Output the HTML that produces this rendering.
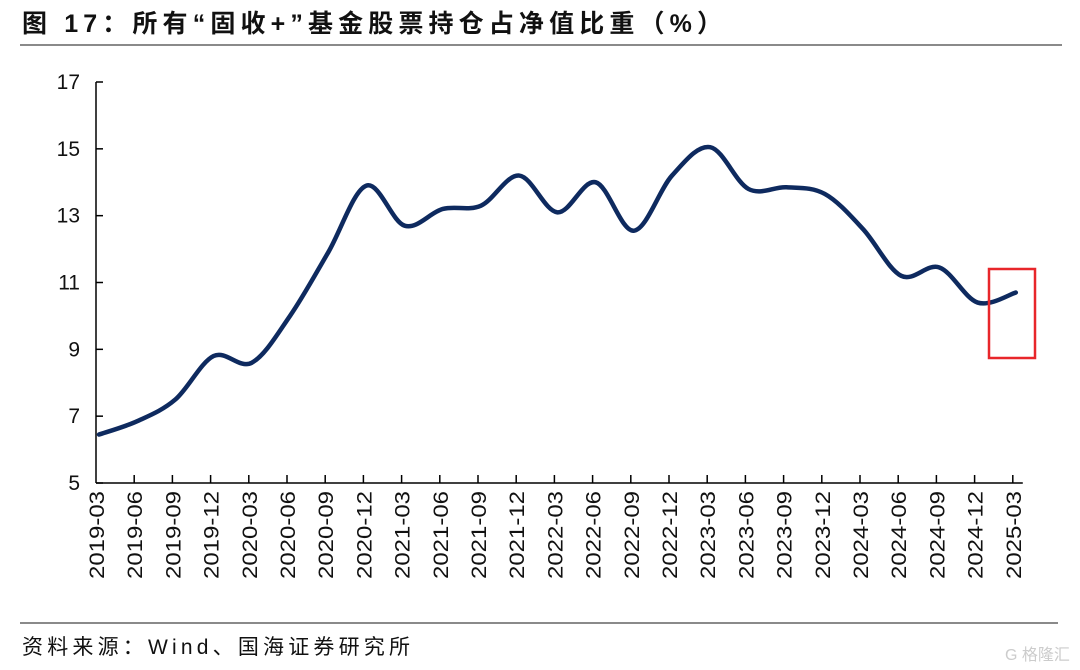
<!DOCTYPE html>
<html><head><meta charset="utf-8"><style>
body{margin:0;background:#fff;width:1080px;height:670px;overflow:hidden;font-family:"Liberation Sans","Noto Sans CJK SC",sans-serif}
</style></head><body>
<svg width="1080" height="670" style="position:absolute;left:0;top:0">
<text x="22" y="32" font-size="25" font-weight="bold" fill="#111" textLength="700" lengthAdjust="spacing" font-family="Liberation Sans, Noto Sans CJK SC, sans-serif">图 17：所有“固收+”基金股票持仓占净值比重（%）</text>
<line x1="20" y1="45" x2="1062" y2="45" stroke="#444" stroke-width="1.2"/>
<g id="axes"></g>
<path id="line" fill="none" stroke="#0e2a5f" stroke-width="4.5" stroke-linejoin="round" stroke-linecap="round"/>
<rect x="989" y="269" width="46" height="89" fill="none" stroke="#e8262a" stroke-width="2.5"/>
<line x1="20" y1="623" x2="1058" y2="623" stroke="#444" stroke-width="1.2"/>
<text x="22" y="654" font-size="21" fill="#111" textLength="388" lengthAdjust="spacing">资料来源：Wind、国海证券研究所</text>
<text x="1005" y="660" font-size="16" fill="#ccc">G 格隆汇</text>
</svg>
<script>
const categories=["2019-03","2019-06","2019-09","2019-12","2020-03","2020-06","2020-09","2020-12","2021-03","2021-06","2021-09","2021-12","2022-03","2022-06","2022-09","2022-12","2023-03","2023-06","2023-09","2023-12","2024-03","2024-06","2024-09","2024-12","2025-03"];
const values=[6.45,6.85,7.5,8.8,8.6,10.0,11.9,13.9,12.7,13.2,13.3,14.2,13.1,14.0,12.55,14.2,15.05,13.8,13.85,13.65,12.6,11.2,11.45,10.4,10.7];
const yTicks=[5,7,9,11,13,15,17];
const X0=96,DX=38.2,Y0=483,Y1=82,VMIN=5,VMAX=17;
const xs=i=>X0+i*DX+3;
const ys=v=>Y0-(v-VMIN)/(VMAX-VMIN)*(Y0-Y1);
const NS="http://www.w3.org/2000/svg";
const ax=document.getElementById('axes');
function mk(t,a,p){const e=document.createElementNS(NS,t);for(const k in a)e.setAttribute(k,a[k]);(p||ax).appendChild(e);return e;}
let e=mk('line',{x1:X0,y1:Y1,x2:X0,y2:Y0,stroke:'#000','stroke-width':1.5});


e=mk('line',{x1:X0,y1:Y0,x2:X0+(categories.length-1)*DX+10,y2:Y0,stroke:'#000','stroke-width':1.5});


yTicks.forEach(v=>{
 const y=ys(v);
 mk('line',{x1:X0,y1:y,x2:X0+7,y2:y,stroke:'#000','stroke-width':1.5});
 const t=mk('text',{x:X0-16,y:y+7,'text-anchor':'end','font-size':21,fill:'#111'});
 t.textContent=v;
 
 
});
categories.forEach((c,i)=>{
 const x=X0+i*DX;
 if(i>0)mk('line',{x1:x,y1:Y0,x2:x,y2:Y0-8,stroke:'#000','stroke-width':1.5});
 const t=mk('text',{x:0,y:0,'text-anchor':'end','font-size':21,fill:'#111',textLength:88,lengthAdjust:'spacingAndGlyphs',transform:`translate(${x+8},${Y0+8}) rotate(-90)`});
 t.textContent=c;
 
 
});
const pts=values.map((v,i)=>[xs(i),ys(v)]);
let d=`M${pts[0][0]},${pts[0][1]}`;
for(let i=0;i<pts.length-1;i++){
 const p0=pts[i-1]||pts[i],p1=pts[i],p2=pts[i+1],p3=pts[i+2]||p2;
 const c1=[p1[0]+(p2[0]-p0[0])/6,p1[1]+(p2[1]-p0[1])/6];
 const c2=[p2[0]-(p3[0]-p1[0])/6,p2[1]-(p3[1]-p1[1])/6];
 d+=` C${c1[0]},${c1[1]} ${c2[0]},${c2[1]} ${p2[0]},${p2[1]}`;
}
document.getElementById('line').setAttribute('d',d);
</script>
</body></html>
